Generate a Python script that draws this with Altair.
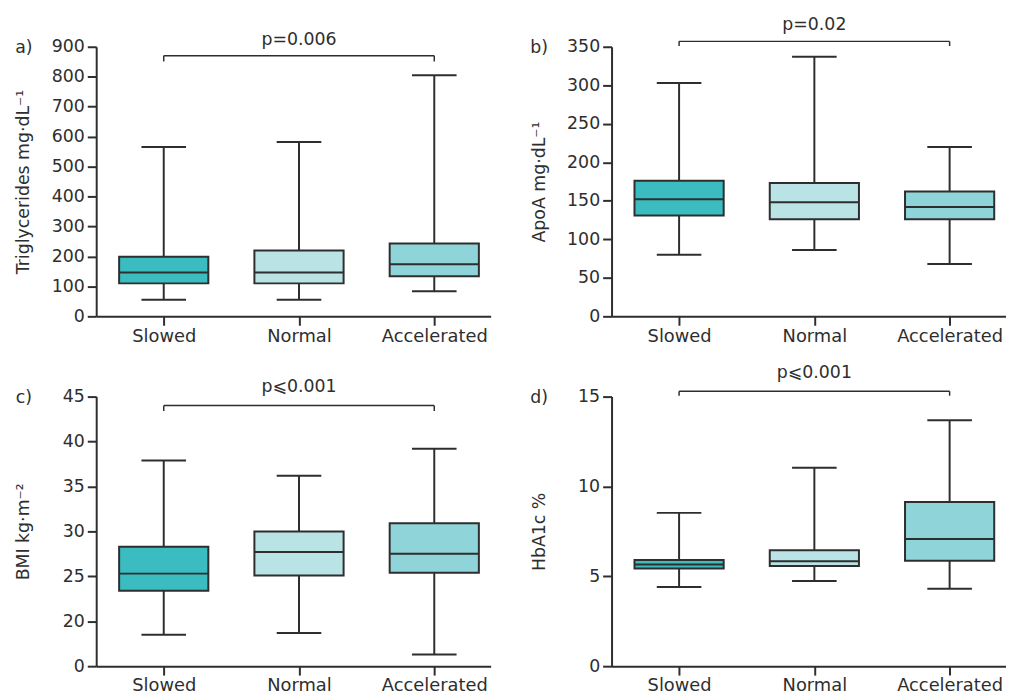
import altair as alt
import pandas as pd

categories = ["Slowed", "Normal", "Accelerated"]
box_colors = ["#3bbcc1", "#b9e3e4", "#8fd4d8"]

# a) Triglycerides
tg_min = [55, 55, 84]
tg_q1 = [110, 110, 134]
tg_med = [146, 146, 174]
tg_q3 = [199, 220, 243]
tg_max = [565, 582, 805]

# b) ApoA
apoa_min = [80, 86, 68]
apoa_q1 = [131, 126, 126]
apoa_med = [152, 148, 142]
apoa_q3 = [176, 173, 162]
apoa_max = [303, 337, 220]

# c) BMI
bmi_min = [18.5, 18.7, 16.3]
bmi_q1 = [23.4, 25.1, 25.4]
bmi_med = [25.3, 27.7, 27.5]
bmi_q3 = [28.3, 30.0, 30.9]
bmi_max = [37.9, 36.2, 39.2]

# d) HbA1c
hba_min = [4.41, 4.74, 4.31]
hba_q1 = [5.44, 5.57, 5.86]
hba_med = [5.66, 5.84, 7.08]
hba_q3 = [5.91, 6.45, 9.14]
hba_max = [8.53, 11.04, 13.69]

p_labels = ["p=0.006", "p=0.02", "p\u2a7d0.001", "p\u2a7d0.001"]
panel_letters = ["a)", "b)", "c)", "d)"]
y_titles = ["Triglycerides mg\u00b7dL\u207b\u00b9", "ApoA mg\u00b7dL\u207b\u00b9",
            "BMI kg\u00b7m\u207b\u00b2", "HbA1c %"]
y_domains = [[0, 900], [0, 350], [15, 45], [0, 15]]
y_ticks = [list(range(0, 901, 100)), list(range(0, 351, 50)),
           [15, 20, 25, 30, 35, 40, 45], [0, 5, 10, 15]]
bracket_y = [870, 357, 44.0, 15.3]
bracket_end_y = [851, 351, 43.4, 15.05]
p_text_y = [922, 378, 46.1, 16.3]

DARK = "#2e2e2e"
FONT = "DejaVu Sans"
W, H = 398, 272


def panel(i, lo, q1, med, q3, hi):
    df = pd.DataFrame({"cat": categories, "lo": lo, "q1": q1, "med": med,
                       "q3": q3, "hi": hi})
    xscale = alt.Scale(type="point", domain=categories, padding=0.458, align=0.545)
    x = alt.X("cat:N", scale=xscale,
              axis=alt.Axis(title=None, labelAngle=0, labelFontSize=18,
                            labelPadding=2, tickSize=9))
    label_expr = "datum.value == 15 ? '0' : datum.label" if i == 2 else "datum.label"
    yscale = alt.Scale(domain=y_domains[i], nice=False, zero=False)
    yaxis = alt.Axis(title=y_titles[i], values=y_ticks[i], labelExpr=label_expr,
                     labelOverlap=False, tickCount=len(y_ticks[i]) + 2,
                     titleX=-64, titleY=H / 2, titleAngle=270,
                     titleBaseline="bottom", titleAlign="center",
                     labelFontSize=17.5, tickSize=9, labelPadding=3)
    base = alt.Chart(df)
    whisk = base.mark_rule(color=DARK, strokeWidth=2).encode(
        x=x, y=alt.Y("lo:Q", scale=yscale, axis=yaxis), y2="hi:Q")
    cap_lo = base.mark_tick(size=45, thickness=2, color=DARK, opacity=1).encode(
        x=x, y="lo:Q")
    cap_hi = base.mark_tick(size=45, thickness=2, color=DARK, opacity=1).encode(
        x=x, y="hi:Q")
    box = base.mark_bar(size=90, stroke=DARK, strokeWidth=2, opacity=1).encode(
        x=x, y="q1:Q", y2="q3:Q",
        color=alt.Color("cat:N", scale=alt.Scale(domain=categories, range=box_colors),
                        legend=None))
    median = base.mark_tick(size=90, thickness=2, color=DARK, opacity=1).encode(
        x=x, y="med:Q")

    br = pd.DataFrame({"a": ["Slowed"], "b": ["Accelerated"], "y": [bracket_y[i]]})
    bracket = alt.Chart(br).mark_rule(color=DARK, strokeWidth=1.5).encode(
        x=alt.X("a:N", scale=xscale), x2="b:N", y="y:Q")
    be = pd.DataFrame({"cat": ["Slowed", "Accelerated"],
                       "y": [bracket_y[i]] * 2, "y2": [bracket_end_y[i]] * 2})
    bends = alt.Chart(be).mark_rule(color=DARK, strokeWidth=1.5).encode(
        x=alt.X("cat:N", scale=xscale), y="y:Q", y2="y2:Q")
    pt = pd.DataFrame({"cat": ["Normal"], "y": [p_text_y[i]], "t": [p_labels[i]]})
    ptext = alt.Chart(pt).mark_text(fontSize=17.5, font=FONT, color=DARK,
                                    baseline="middle", align="center").encode(
        x=alt.X("cat:N", scale=xscale), y="y:Q", text="t:N")
    lt = pd.DataFrame({"t": [panel_letters[i]]})
    letter = alt.Chart(lt).mark_text(fontSize=17.5, font=FONT, color=DARK,
                                     baseline="middle", align="center").encode(
        x=alt.value(-73), y=alt.value(1), text="t:N")

    return alt.layer(whisk, cap_lo, cap_hi, box, median, bracket, bends, ptext,
                     letter).properties(width=W, height=H)


pa = panel(0, tg_min, tg_q1, tg_med, tg_q3, tg_max)
pb = panel(1, apoa_min, apoa_q1, apoa_med, apoa_q3, apoa_max)
pc = panel(2, bmi_min, bmi_q1, bmi_med, bmi_q3, bmi_max)
pd_ = panel(3, hba_min, hba_q1, hba_med, hba_q3, hba_max)

chart = alt.concat(pa, pb, pc, pd_, columns=2,
                   spacing={"row": 81, "column": 122},
                   bounds="flush").properties(
    padding={"left": 7, "top": 5, "right": 0, "bottom": 0}
).configure_view(strokeWidth=0).configure_axis(
    domainColor=DARK, domainWidth=2, tickColor=DARK, tickWidth=2,
    labelColor=DARK, titleColor=DARK, labelFont=FONT, titleFont=FONT,
    titleFontSize=17.5, titleFontWeight="normal", grid=False
)

chart.save("out.html", embed_options={"renderer": "svg", "actions": False})
